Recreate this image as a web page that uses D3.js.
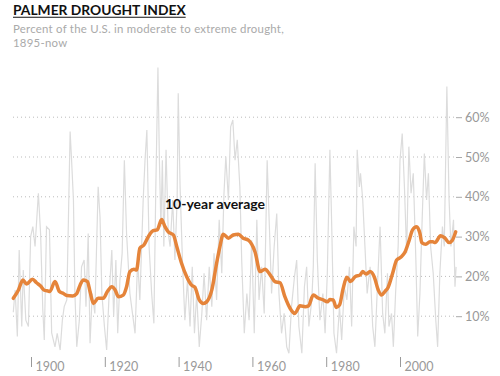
<!DOCTYPE html>
<html>
<head>
<meta charset="utf-8">
<script src="https://cdn.jsdelivr.net/npm/d3@7"></script>
<style>
  body { margin: 0; background: #fff; }
  svg { display: block; font-family: Lato, "Open Sans", sans-serif; }
</style>
</head>
<body>
<div id="chart"></div>
<script>
// monthly-ish readings (peaks and troughs) of % of U.S. in drought
var monthYears = [1895.2, 1895.7, 1896.3, 1896.8, 1897.5, 1897.9, 1898.6, 1899.3, 1899.9, 1900.5,
  1901.1, 1902.0, 1902.6, 1903.2, 1903.6, 1904.2, 1905.0, 1905.6, 1906.5, 1907.1,
  1907.9, 1908.5, 1909.0, 1909.7, 1910.1, 1910.6, 1911.0, 1911.5, 1911.9, 1912.4,
  1913.1, 1913.7, 1914.4, 1914.9, 1915.5, 1916.0, 1916.6, 1917.3, 1918.2, 1918.7,
  1919.2, 1919.9, 1920.5, 1921.1, 1921.9, 1922.4, 1923.0, 1923.5, 1924.1, 1924.7,
  1925.3, 1925.9, 1926.8, 1927.5, 1928.2, 1928.9, 1929.5, 1930.4, 1930.9, 1931.4,
  1932.0, 1932.7, 1933.3, 1933.8, 1934.4, 1934.8, 1935.2, 1935.6, 1936.0, 1936.6,
  1937.2, 1937.7, 1938.4, 1939.0, 1939.6, 1939.9, 1940.4, 1941.1, 1941.7, 1942.4,
  1943.1, 1943.7, 1944.3, 1944.9, 1945.6, 1946.3, 1946.9, 1947.6, 1948.3, 1949.0,
  1949.6, 1950.3, 1951.0, 1951.7, 1952.3, 1952.8, 1953.5, 1954.1, 1954.7, 1955.3,
  1955.9, 1956.6, 1957.1, 1957.8, 1958.5, 1959.1, 1959.8, 1960.5, 1961.2, 1961.8,
  1962.5, 1963.2, 1964.0, 1964.6, 1965.2, 1965.9, 1966.6, 1967.2, 1967.9, 1968.6,
  1969.3, 1969.9, 1970.6, 1971.4, 1972.0, 1972.6, 1973.4, 1974.1, 1974.7, 1975.3,
  1976.1, 1976.5, 1977.0, 1977.6, 1978.3, 1979.1, 1979.7, 1980.3, 1981.0, 1981.5,
  1982.1, 1982.8, 1983.6, 1984.2, 1984.9, 1985.6, 1986.3, 1986.9, 1987.5, 1988.1,
  1988.4, 1989.0, 1989.3, 1989.9, 1990.5, 1991.1, 1991.9, 1992.6, 1993.2, 1993.8,
  1994.6, 1995.3, 1995.9, 1996.6, 1997.0, 1997.7, 1998.2, 1998.8, 1999.5, 2000.0,
  2000.6, 2001.2, 2001.8, 2002.4, 2003.0, 2003.6, 2004.3, 2004.8, 2005.4, 2006.0,
  2006.6, 2007.2, 2007.7, 2008.3, 2009.0, 2009.7, 2010.2, 2010.8, 2011.5, 2012.0,
  2012.7, 2013.3, 2013.8, 2014.5, 2014.9, 2015.2];
var monthPct = [11, 16.6, 4.9, 26.6, 7.4, 21.6, 9.0, 7.4, 30, 32.5,
  27.5, 40.9, 30.8, 11.6, 4, 32.5, 31.7, 5.8, 2.3, 5.7,
  1.5, 9.0, 12.4, 14.1, 32.5, 56.4, 49.2, 39.2, 15.7, 2.3,
  9.0, 22.4, 24.1, 12.4, 30.8, 3.2, 15.7, 10.7, 42.5, 35,
  15.7, 7.4, 1.5, 14.1, 26.6, 9.9, 24.1, 5.7, 19.1, 25.8,
  49.2, 30.8, 15.7, 10.7, 5.7, 24.1, 14.1, 39.2, 49.2, 56.8,
  27.5, 15.7, 8.2, 40.9, 72.5, 49.2, 32.5, 49.2, 27.5, 51.8,
  30.8, 27.5, 39.2, 24.1, 39.2, 66.0, 42.5, 22.4, 9.0, 19.1,
  7.4, 22.4, 5.7, 15.7, 2.3, 10.7, 20.8, 9.0, 22.4, 12.4,
  25.8, 14.1, 34.2, 20.8, 40.9, 50.1, 39.2, 57.6, 59.3, 49.2,
  54.3, 42.5, 24.1, 5.7, 15.7, 9.0, 29.1, 5.7, 34.2, 14.1,
  22.4, 10.7, 49.2, 32.5, 15.7, 27.5, 35.8, 15.7, 5.7, 10.7,
  2.3, 0.7, 12.4, 19.9, 24.1, 7.4, 0.7, 17.4, 22.4, 7.4,
  14.1, 22.4, 48.4, 24.1, 9.0, 15.7, 5.7, 20.8, 51.8, 32.5,
  5.7, 0.7, 12.4, 4.0, 17.4, 14.1, 22.4, 7.4, 32.5, 27.5,
  51.8, 42.5, 45.9, 39.2, 27.5, 15.7, 22.4, 7.4, 2.3, 15.7,
  32.5, 10.7, 5.7, 20.8, 7.4, 10.7, 2.3, 15.7, 27.5, 49.2,
  55.9, 42.5, 25.8, 52.6, 40.9, 45.9, 24.1, 4.9, 15.7, 34.2,
  50.9, 39.2, 45.9, 27.5, 20.8, 9.0, 2.3, 20.8, 32.5, 27.5,
  67.7, 39.2, 27.5, 34.2, 17.4, 22.4];

// 10-year average
var avgYears = [1895.2, 1896.6, 1897.8, 1898.8, 1900.4, 1901.5, 1902.6, 1903.5, 1904.7, 1905.1,
  1906.5, 1907.7, 1908.8, 1909.7, 1911.3, 1912.4, 1913.3, 1914.2, 1915.3, 1916.0,
  1916.9, 1918.2, 1919.6, 1920.7, 1921.9, 1922.8, 1923.7, 1925.0, 1925.9, 1926.8,
  1927.9, 1928.6, 1929.5, 1930.6, 1931.8, 1933.1, 1934.2, 1935.4, 1936.3, 1937.2,
  1938.6, 1939.5, 1940.8, 1942.2, 1943.5, 1944.4, 1945.6, 1946.7, 1947.6, 1949.0,
  1950.3, 1951.2, 1952.1, 1953.5, 1954.8, 1956.2, 1957.5, 1958.9, 1960.7, 1962.1,
  1963.4, 1964.8, 1966.1, 1967.5, 1968.8, 1970.2, 1971.5, 1972.9, 1974.3, 1975.2,
  1976.5, 1977.9, 1979.2, 1980.3, 1981.0, 1981.9, 1982.7, 1983.6, 1984.6, 1985.6,
  1986.6, 1987.8, 1989.2, 1989.9, 1990.8, 1991.9, 1993.0, 1994.1, 1995.0, 1995.9,
  1996.8, 1998.0, 1999.1, 2000.2, 2001.4, 2002.5, 2003.4, 2004.5, 2005.4, 2005.9,
  2007.0, 2008.1, 2008.9, 2009.5, 2011.0, 2012.2, 2013.3, 2014.2, 2015.1];
var avgPct = [14.5, 16.6, 19.1, 18.1, 19.3, 18.4, 17.6, 16.6, 16.3, 16.2,
  18.7, 16.2, 15.7, 15.2, 15.1, 15.7, 17.8, 19.1, 18.7, 16.2,
  13.2, 14.5, 14.5, 16.2, 17.4, 16.6, 14.9, 15.3, 17.4, 21.2,
  21.8, 21.6, 27.1, 27.9, 30.0, 31.5, 31.7, 34.3, 32.5, 31.2,
  30.4, 27.5, 23.3, 19.9, 17.8, 17.3, 14.1, 13.2, 13.6, 16.6,
  23.3, 27.5, 30.6, 29.6, 30.4, 30.6, 29.6, 29.1, 26.2, 21.2,
  21.8, 20.4, 18.7, 18.4, 14.9, 12.0, 10.7, 12.6, 12.4, 12.6,
  15.3, 14.5, 14.1, 13.6, 14.2, 14.1, 12.2, 12.8, 17.0, 19.8,
  18.7, 19.9, 20.4, 21.2, 20.6, 21.2, 19.9, 16.6, 15.3, 16.2,
  17.3, 20.8, 24.1, 24.8, 26.2, 29.1, 31.7, 32.5, 30.8, 28.5,
  28.1, 28.7, 28.7, 28.5, 30.2, 29.6, 28.5, 29.1, 31.2];

var yTicks = [10, 20, 30, 40, 50, 60];
var xTicks = [1900, 1920, 1940, 1960, 1980, 2000];

var width = 500;
var height = 376;

var svg = d3.select("#chart")
  .append("svg")
  .attr("width", width)
  .attr("height", height);

var x = d3.scaleLinear()
  .domain([1900, 2000])
  .range([31, 400]);

var y = d3.scaleLinear()
  .domain([0, 60])
  .range([356, 117.2]);

// title
var title = svg.append("text")
  .attr("x", 13)
  .attr("y", 15)
  .attr("font-size", "13.8px")
  .attr("font-weight", "bold")
  .style("fill", "#111")
  .text("PALMER DROUGHT INDEX");

svg.append("line")
  .attr("x1", 13).attr("x2", 13 + title.node().getComputedTextLength())
  .attr("y1", 17.3).attr("y2", 17.3)
  .style("stroke", "#111")
  .style("stroke-width", 1.1);

// subtitle, two lines
var subG = svg.append("text")
  .attr("font-size", "11.4px")
  .attr("letter-spacing", "0.25px")
  .style("fill", "#aaa");
subG.append("tspan")
  .attr("x", 13)
  .attr("y", 32.5)
  .text("Percent of the U.S. in moderate to extreme drought,");
subG.append("tspan")
  .attr("x", 13)
  .attr("y", 46.5)
  .text("1895-now");

// dotted gridlines
svg.append("g")
  .selectAll("line")
  .data(yTicks)
  .enter().append("line")
  .attr("x1", 13)
  .attr("x2", 455)
  .attr("y1", d => y(d))
  .attr("y2", d => y(d))
  .style("stroke", "#bbb")
  .style("stroke-width", 1)
  .style("stroke-dasharray", "1,3");

// y axis on the right
var yAxisG = svg.append("g")
  .attr("transform", "translate(456, 0)")
  .call(d3.axisRight(y).tickValues(yTicks).tickSize(6).tickPadding(3).tickFormat(d => d + "%"));
yAxisG.select(".domain").remove();
yAxisG.selectAll(".tick line").style("stroke", "#aaa");
yAxisG.selectAll("text")
  .attr("font-size", "12.5px")
  .attr("font-family", "Lato, sans-serif")
  .style("fill", "#999");

// x axis
var xAxisG = svg.append("g")
  .attr("transform", "translate(0, 357)")
  .call(d3.axisBottom(x).tickValues(xTicks).tickSize(10).tickFormat(d3.format("d")));
xAxisG.select(".domain").remove();
xAxisG.selectAll(".tick line").style("stroke", "#999");
xAxisG.selectAll("text")
  .attr("text-anchor", "start")
  .attr("x", 4)
  .attr("y", 5)
  .attr("font-size", "12.5px")
  .attr("font-family", "Lato, sans-serif")
  .style("fill", "#999");

// monthly line
var monthData = monthYears.map((d, i) => ({ year: d, pct: monthPct[i] }));
var avgData = avgYears.map((d, i) => ({ year: d, pct: avgPct[i] }));

var line = d3.line()
  .x(d => x(d.year))
  .y(d => y(d.pct));

svg.append("path")
  .datum(monthData)
  .attr("d", line)
  .style("fill", "none")
  .style("stroke", "#dcdcdc")
  .style("stroke-width", 1.2);

svg.append("path")
  .datum(avgData)
  .attr("d", line.curve(d3.curveMonotoneX))
  .style("fill", "none")
  .style("stroke", "#e5843a")
  .style("stroke-width", 3.5)
  .style("stroke-linejoin", "round")
  .style("stroke-linecap", "round");

svg.append("text")
  .attr("x", 165)
  .attr("y", 208.5)
  .attr("font-size", "14px")
  .attr("font-weight", "bold")
  .style("fill", "#111")
  .text("10-year average");
</script>
</body>
</html>
